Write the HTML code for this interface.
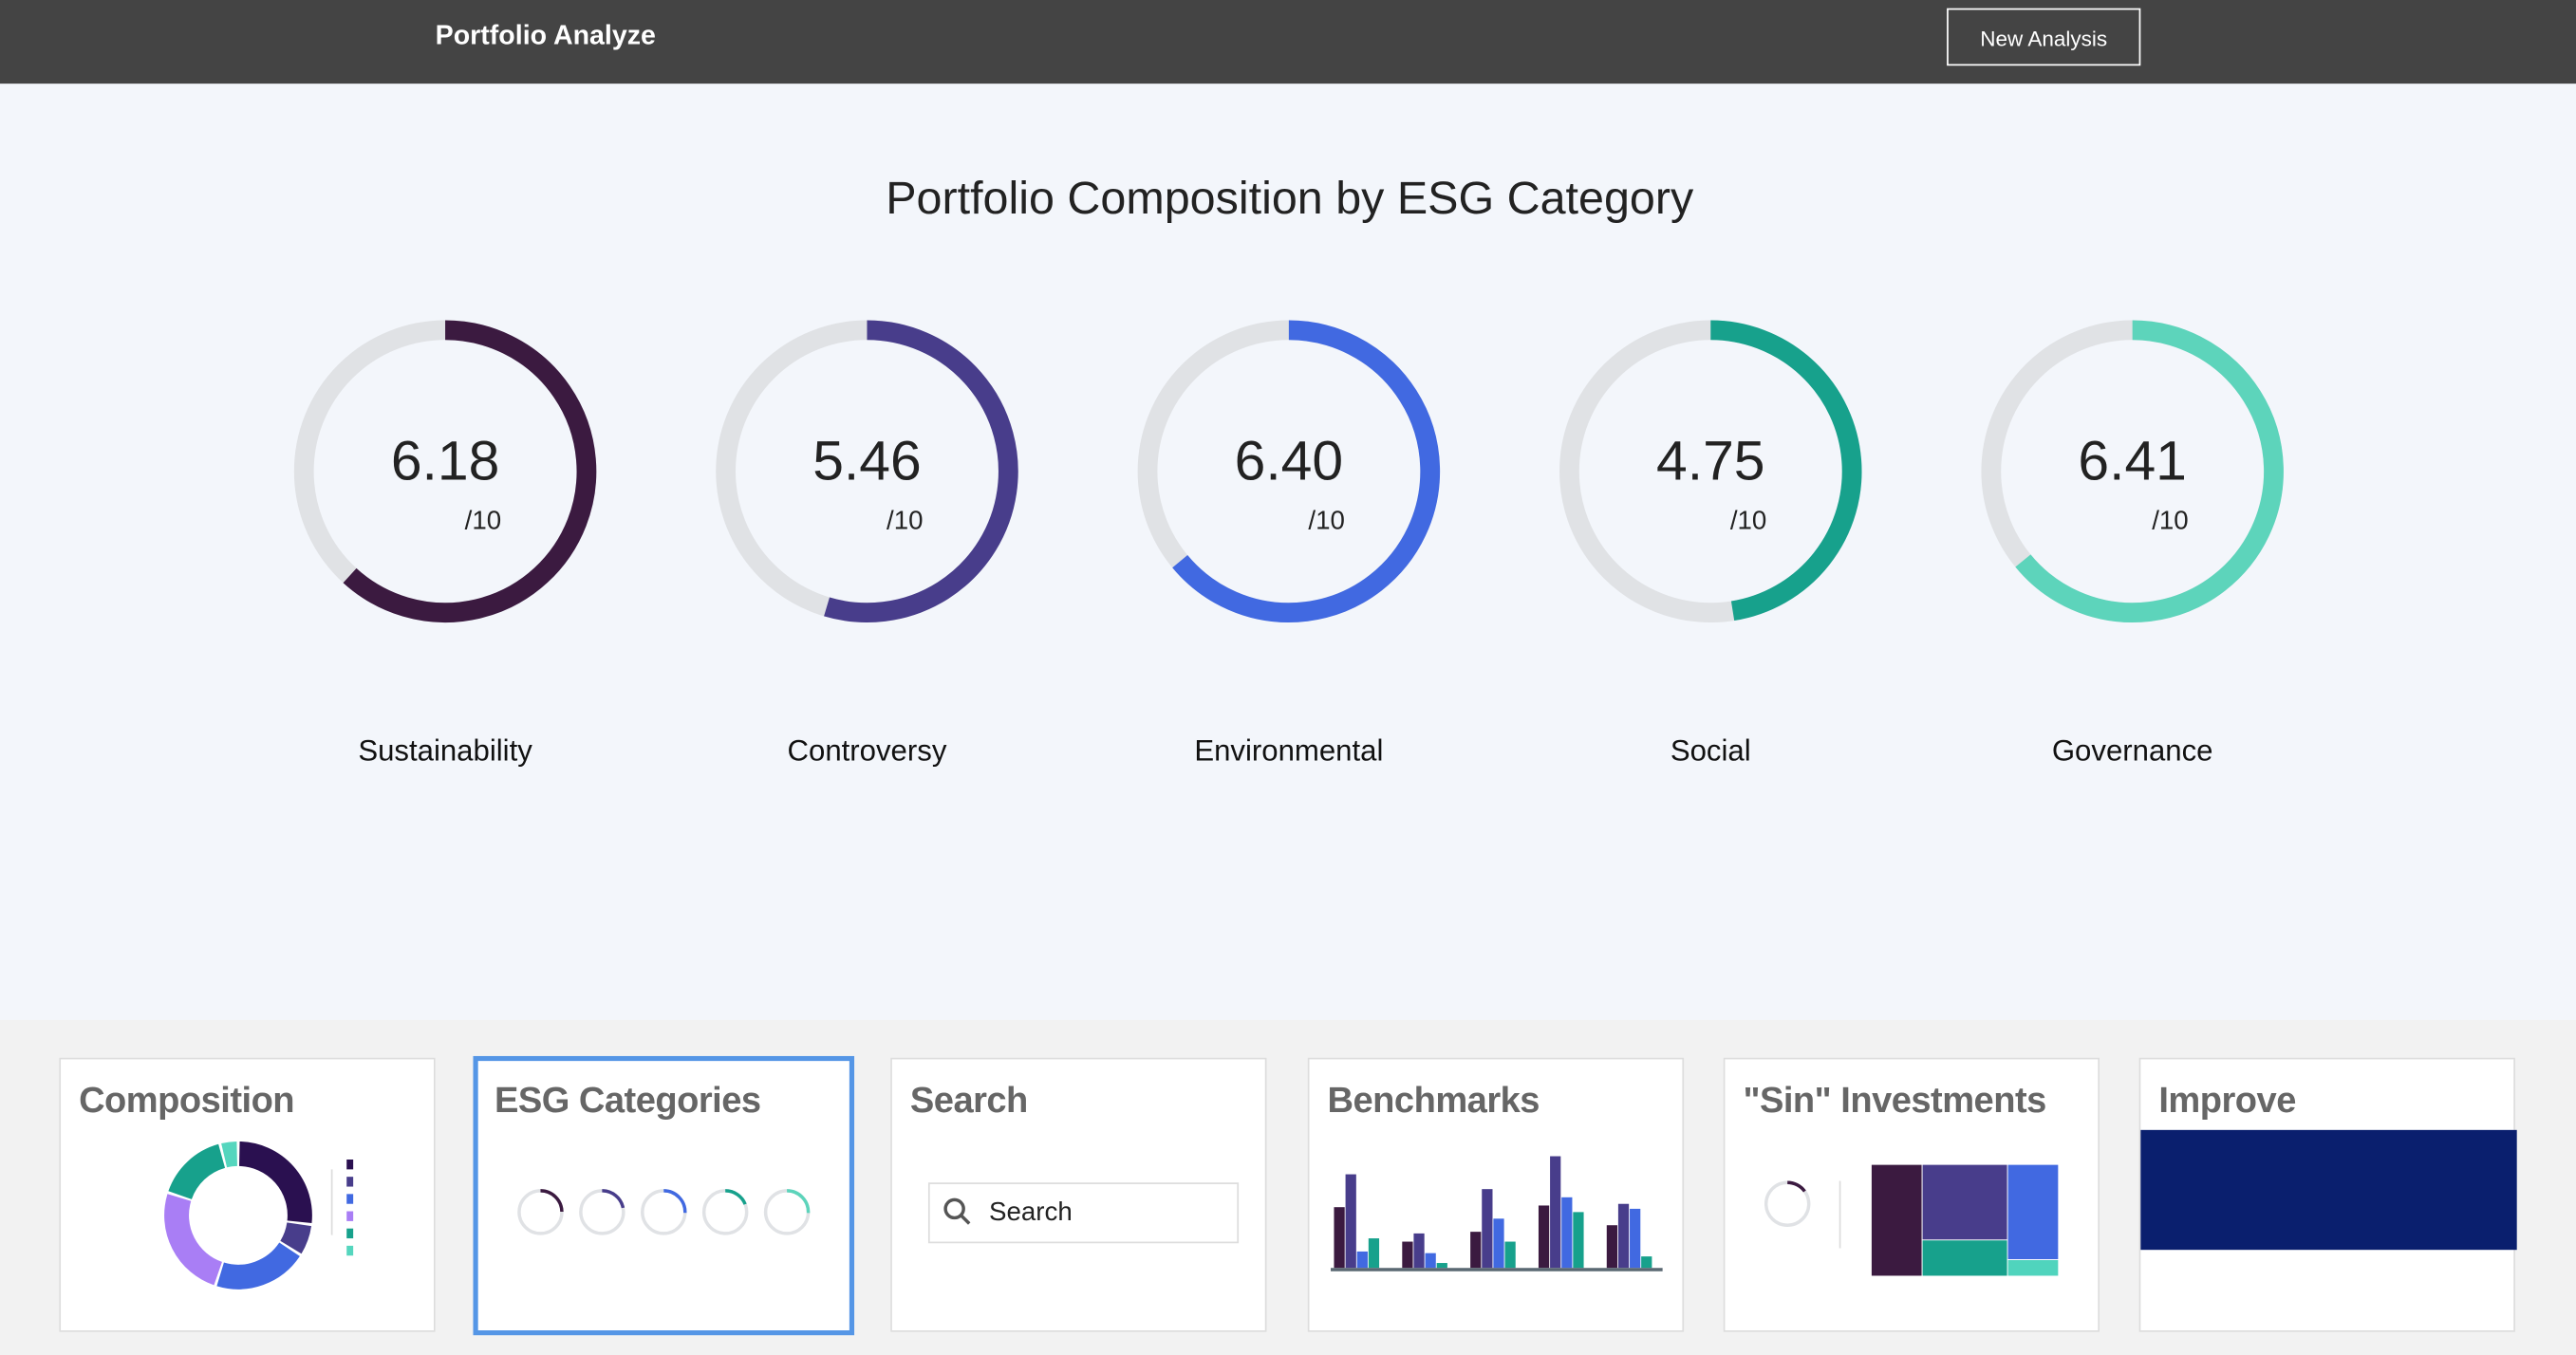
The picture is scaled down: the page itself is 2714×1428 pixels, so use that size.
<!DOCTYPE html>
<html><head><meta charset="utf-8"><style>
html,body{margin:0;padding:0;width:2714px;height:1428px;overflow:hidden;background:#f2f2f2;font-family:"Liberation Sans",sans-serif}
#wrap{width:1568px;height:825px;transform:scale(1.73087);transform-origin:0 0;position:relative}
#hdr{position:absolute;left:0;top:0;width:1568px;height:51px;background:#444}
#hdr .t{position:absolute;left:265px;top:13px;color:#fff;font-weight:bold;font-size:16.5px}
#hdr .b{position:absolute;left:1185px;top:5px;width:116px;height:33px;border:1.5px solid #fff;color:#fff;font-size:13px;line-height:35px;text-align:center}
#main{position:absolute;left:0;top:51px;width:1568px;height:570px;background:#f3f6fb}
.card{position:absolute;top:644px;width:227px;height:165px;background:#fff;border:1.5px solid #ddd;box-sizing:content-box}
.card .h{position:absolute;left:11px;top:12px;font-size:22px;color:#666;font-weight:bold;letter-spacing:-0.3px}
svg{position:absolute;left:0;top:0}
</style></head><body><div id="wrap">
<div id="hdr">
<div class="t">Portfolio Analyze</div>
<div class="b">New Analysis</div>
</div>
<div id="main"></div>
<div class="card" style="left:36px"><div class="h">Composition</div></div>
<div class="card" style="left:288px;top:643px;border:3px solid #5596e6;width:226px;height:164px"><div class="h" style="left:10px;top:11px">ESG Categories</div></div>
<div class="card" style="left:542px"><div class="h">Search</div>
<div style="position:absolute;left:22px;top:75px;width:187px;height:35px;border:1.5px solid #ddd;font-size:16px;line-height:35px;color:#222"><span style="position:absolute;left:36px">Search</span></div></div>
<div class="card" style="left:796px"><div class="h">Benchmarks</div></div>
<div class="card" style="left:1049px"><div class="h">"Sin" Investments</div></div>
<div class="card" style="left:1302px"><div class="h">Improve</div>
<div style="position:absolute;left:0;top:43px;width:229px;height:73px;background:#0a1f6e"></div></div>
<svg id="s" width="1568" height="825"></svg>
</div>
<script>
const categories=["Sustainability","Controversy","Environmental","Social","Governance"];
const scores=[6.18,5.46,6.40,4.75,6.41];
const colors=["#3b1a40","#483d8b","#4169e1","#17a18c","#5dd4bb"];
const compShares=[27,7,21,25,16,4];
const compColors=["#2a1050","#483d8b","#4169e1","#a97ef5","#17a18c","#55d6be"];
const benchGroups=["g1","g2","g3","g4","g5"];
const benchVals=[[37,57,10,18],[16,21,9,3],[22,48,30,16],[38,68,43,34],[26,39,36,7]];
const benchColors=["#3b1a40","#483d8b","#4169e1","#17a18c"];
const sinScore=1.5;
const NS="http://www.w3.org/2000/svg";
const S=document.getElementById('s');
function mk(t,a,p){const e=document.createElementNS(NS,t);for(const k in a)e.setAttribute(k,a[k]);(p||S).appendChild(e);return e;}
function arcPath(cx,cy,r,a0,a1){const x0=cx+r*Math.sin(a0),y0=cy-r*Math.cos(a0),x1=cx+r*Math.sin(a1),y1=cy-r*Math.cos(a1);return `M${x0} ${y0}A${r} ${r} 0 ${a1-a0>Math.PI?1:0} 1 ${x1} ${y1}`;}
function gauge(cx,cy,r,w,v,c,name){
 const bg=mk('circle',{cx,cy,r,fill:'none',stroke:'#e0e2e5','stroke-width':w});
 
 
 const p=mk('path',{d:arcPath(cx,cy,r,0,Math.min(v/10,0.9999)*2*Math.PI),fill:'none',stroke:c,'stroke-width':w});
 
 
}
const t=mk('text',{x:785,y:130,'text-anchor':'middle','font-size':28,fill:'#222','font-weight':300});t.textContent="Portfolio Composition by ESG Category";


categories.forEach((c,i)=>{
 const cx=271+i*256.75,cy=287;
 gauge(cx,cy,86,12,scores[i],colors[i],'gauge-'+c.toLowerCase());
 const v=mk('text',{x:cx,y:cy+5,'text-anchor':'middle','font-size':34,fill:'#222'});v.textContent=scores[i].toFixed(2);
 
 
 const d=mk('text',{x:cx+23,y:cy+35,'text-anchor':'middle','font-size':16,fill:'#222'});d.textContent="/10";
 
 
 const l=mk('text',{x:cx,y:463,'text-anchor':'middle','font-size':18,fill:'#111'});l.textContent=c;
 
 
 gauge(329+i*37.5,738,13,2,scores[i]*0.4,colors[i],'mini-gauge-'+c.toLowerCase());
});
// composition donut
const tot=compShares.reduce((a,b)=>a+b,0);let a=0;
compShares.forEach((s,i)=>{const a1=a+s/tot*2*Math.PI;
 const p=mk('path',{d:arcPath(145,740,37.5,a+0.02,a1-0.02),fill:'none',stroke:compColors[i],'stroke-width':15});
 
 
 const r=mk('rect',{x:211,y:706+i*10.5,width:4,height:6,fill:compColors[i]});
 
 
 a=a1;});
mk('line',{x1:202,y1:712,x2:202,y2:752,stroke:'#ddd','stroke-width':1});
// benchmarks
const base=772,bw=7;
benchGroups.forEach((g,gi)=>{benchVals[gi].forEach((v,j)=>{
 const r=mk('rect',{x:812+gi*41.5+j*bw,y:base-v,width:bw-0.5,height:v,fill:benchColors[j]});
 
 });});
const ax=mk('line',{x1:810,y1:773,x2:1012,y2:773,stroke:'#5a6872','stroke-width':2});


// sin
gauge(1088,733,13,2,sinScore,'#3b1a40','sin-gauge');
mk('line',{x1:1120,y1:719,x2:1120,y2:760,stroke:'#ddd','stroke-width':1});
[[1139,709,31,68,"#3b1a40"],[1170,709,52,46,"#483d8b"],[1170,755,52,22,"#17a18c"],[1222,709,31,58,"#4169e1"],[1222,767,31,10,"#50d4bd"]].forEach((q,i)=>{
 const r=mk('rect',{x:q[0],y:q[1],width:q[2],height:q[3],fill:q[4],stroke:'#fff','stroke-width':0.5});
 
 });
// search icon
mk('circle',{cx:581,cy:736,r:5.5,fill:'none',stroke:'#555','stroke-width':2});
mk('line',{x1:585,y1:740,x2:590,y2:745,stroke:'#555','stroke-width':2});
</script></body></html>
